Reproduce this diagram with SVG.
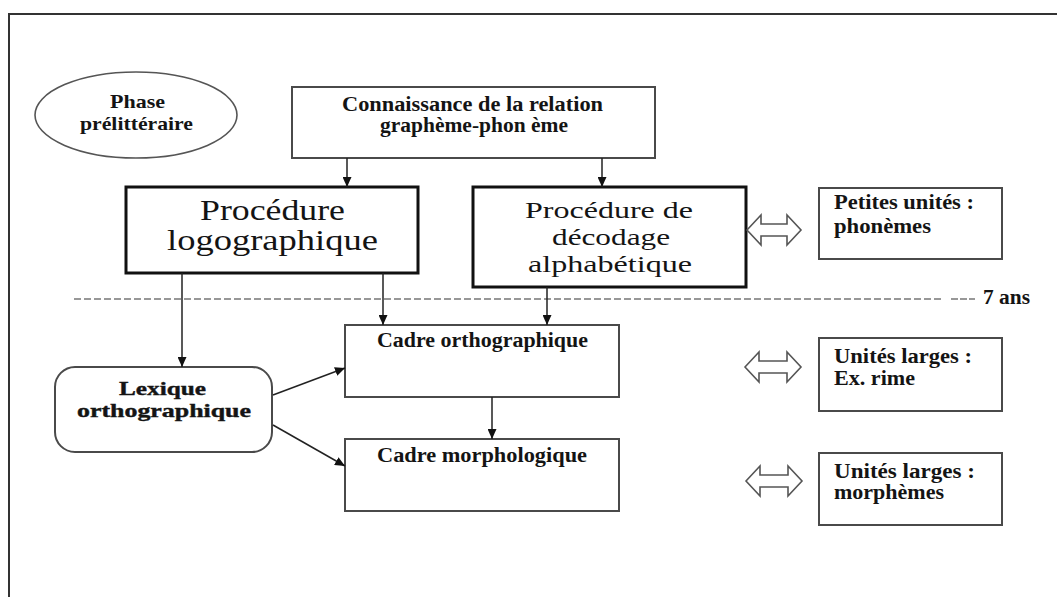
<svg xmlns="http://www.w3.org/2000/svg" width="1057" height="597" viewBox="0 0 1057 597">
<style>
.t{font-family:"Liberation Serif","Times New Roman",serif;fill:#141414}
.b{font-weight:bold}
.s{font-size:20px}
.box{fill:#fff;stroke:#4a4a4a;stroke-width:2}
.thick{fill:#fff;stroke:#111;stroke-width:3}
.con{stroke:#222;stroke-width:1.5;fill:none}
.dbl{fill:#fff;stroke:#555;stroke-width:1.6;stroke-linejoin:miter}
</style>
<defs>
<marker id="ah" markerUnits="userSpaceOnUse" markerWidth="10" markerHeight="9" refX="10" refY="4.5" orient="auto">
<path d="M0,0 L10,4.5 L0,9 z" fill="#111"/>
</marker>
</defs>
<rect x="0" y="0" width="1057" height="597" fill="#fff"/>
<path d="M9,597 L9,14 L1057,14" fill="none" stroke="#333" stroke-width="2"/>

<g id="phase">
<ellipse cx="136" cy="115" rx="101" ry="43" fill="#fff" stroke="#555" stroke-width="1.6"/>
<text class="t b" x="110" y="108" font-size="19" textLength="55" lengthAdjust="spacingAndGlyphs">Phase</text>
<text class="t b" x="80" y="130" font-size="19" textLength="113" lengthAdjust="spacingAndGlyphs">prélittéraire</text>
</g>

<g id="connaissance">
<rect class="box" x="292" y="87" width="363" height="71"/>
<text class="t b s" x="342" y="111" textLength="261" lengthAdjust="spacingAndGlyphs">Connaissance de la relation</text>
<text class="t b s" x="380" y="132" textLength="188" lengthAdjust="spacingAndGlyphs">graphème-phon ème</text>
</g>

<g id="logographique">
<rect class="thick" x="126" y="187" width="292" height="86"/>
<text class="t" x="200" y="220" font-size="29" textLength="145" lengthAdjust="spacingAndGlyphs">Procédure</text>
<text class="t" x="167" y="250" font-size="29" textLength="211" lengthAdjust="spacingAndGlyphs">logographique</text>
</g>

<g id="decodage">
<rect class="thick" x="473" y="187" width="273" height="100"/>
<text class="t" x="525" y="218" font-size="24" textLength="168" lengthAdjust="spacingAndGlyphs">Procédure de</text>
<text class="t" x="552" y="245" font-size="24" textLength="118" lengthAdjust="spacingAndGlyphs">décodage</text>
<text class="t" x="528" y="272" font-size="24" textLength="164" lengthAdjust="spacingAndGlyphs">alphabétique</text>
</g>

<g id="petites">
<rect class="box" x="819" y="188" width="183" height="71"/>
<text class="t b s" x="834" y="209" textLength="140" lengthAdjust="spacingAndGlyphs">Petites unités :</text>
<text class="t b s" x="834" y="233" textLength="97" lengthAdjust="spacingAndGlyphs">phonèmes</text>
</g>

<g id="rime">
<rect class="box" x="819" y="338" width="183" height="73"/>
<text class="t b s" x="834" y="363" textLength="138" lengthAdjust="spacingAndGlyphs">Unités larges :</text>
<text class="t b s" x="834" y="385" textLength="81" lengthAdjust="spacingAndGlyphs">Ex. rime</text>
</g>

<g id="morphemes">
<rect class="box" x="819" y="453" width="183" height="72"/>
<text class="t b s" x="834" y="478" textLength="141" lengthAdjust="spacingAndGlyphs">Unités larges :</text>
<text class="t b s" x="834" y="499" textLength="110" lengthAdjust="spacingAndGlyphs">morphèmes</text>
</g>

<g id="cadre-ortho">
<rect class="box" x="345" y="325" width="274" height="72"/>
<text class="t b s" x="377" y="347" textLength="211" lengthAdjust="spacingAndGlyphs">Cadre orthographique</text>
</g>

<g id="cadre-morpho">
<rect class="box" x="345" y="439" width="274" height="72"/>
<text class="t b s" x="377" y="462" textLength="210" lengthAdjust="spacingAndGlyphs">Cadre morphologique</text>
</g>

<g id="lexique">
<rect class="box" x="55" y="367" width="217" height="85" rx="20" ry="20"/>
<text class="t b" x="119" y="395" font-size="19" stroke="#141414" stroke-width="0.4" textLength="87" lengthAdjust="spacingAndGlyphs">Lexique</text>
<text class="t b" x="77" y="417" font-size="19" stroke="#141414" stroke-width="0.4" textLength="174" lengthAdjust="spacingAndGlyphs">orthographique</text>
</g>

<g id="age">
<line x1="74" y1="299" x2="942" y2="299" stroke="#777" stroke-width="1.3" stroke-dasharray="7 3"/>
<line x1="951" y1="299" x2="975" y2="299" stroke="#777" stroke-width="1.3" stroke-dasharray="7 2"/>
<text class="t b s" x="983" y="304" textLength="47" lengthAdjust="spacingAndGlyphs">7 ans</text>
</g>

<g id="connectors">
<line class="con" x1="347" y1="158" x2="347" y2="187" marker-end="url(#ah)"/>
<line class="con" x1="602" y1="158" x2="602" y2="187" marker-end="url(#ah)"/>
<line class="con" x1="182" y1="273" x2="182" y2="367" marker-end="url(#ah)"/>
<line class="con" x1="383" y1="273" x2="383" y2="325" marker-end="url(#ah)"/>
<line class="con" x1="547" y1="287" x2="547" y2="325" marker-end="url(#ah)"/>
<line class="con" x1="273" y1="395" x2="345" y2="368" marker-end="url(#ah)"/>
<line class="con" x1="273" y1="425" x2="345" y2="466" marker-end="url(#ah)"/>
<line class="con" x1="492" y1="397" x2="492" y2="439" marker-end="url(#ah)"/>
<path class="dbl" d="M747,230 L761,215 L761,224 L787,224 L787,215 L801,230 L787,245 L787,236 L761,236 L761,245 Z"/>
<path class="dbl" d="M745,367 L759,352 L759,361 L787,361 L787,352 L801,367 L787,382 L787,373 L759,373 L759,382 Z"/>
<path class="dbl" d="M746,481 L760,466 L760,475 L788,475 L788,466 L802,481 L788,496 L788,487 L760,487 L760,496 Z"/>
</g>
</svg>
